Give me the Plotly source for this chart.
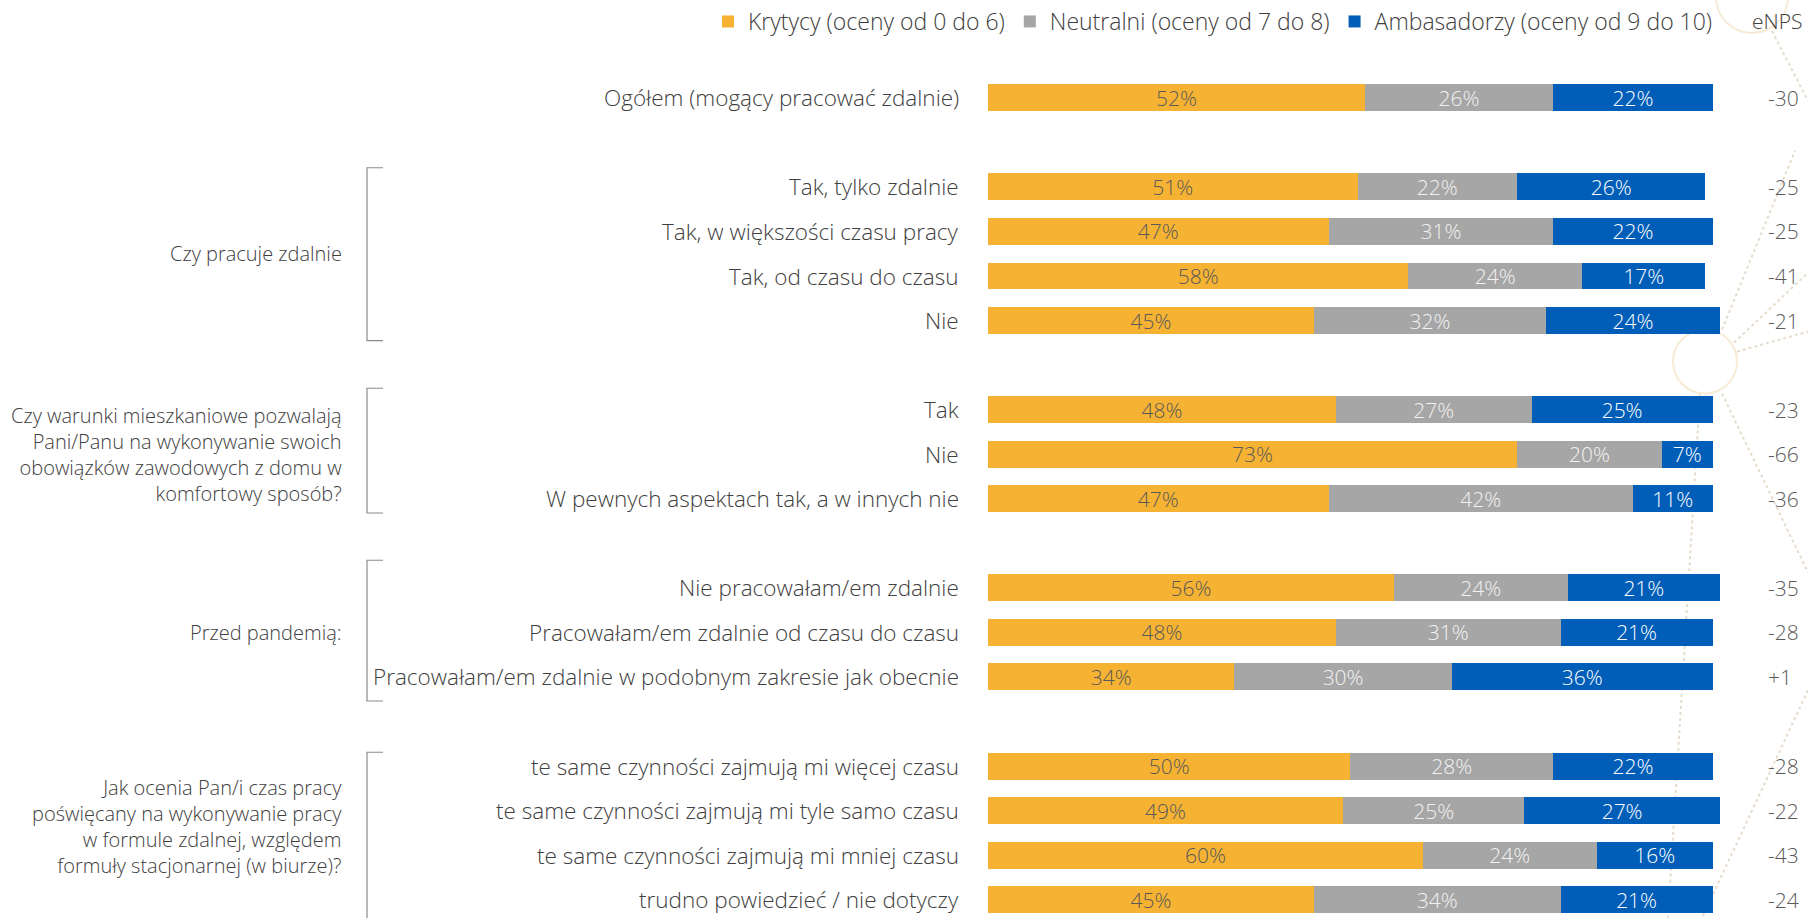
import plotly.graph_objects as go

# --- data -------------------------------------------------------------
labels = [
    "Ogółem (mogący pracować zdalnie)",
    "Tak, tylko zdalnie",
    "Tak, w większości czasu pracy",
    "Tak, od czasu do czasu",
    "Nie",
    "Tak",
    "Nie",
    "W pewnych aspektach tak, a w innych nie",
    "Nie pracowałam/em zdalnie",
    "Pracowałam/em zdalnie od czasu do czasu",
    "Pracowałam/em zdalnie w podobnym zakresie jak obecnie",
    "te same czynności zajmują mi więcej czasu",
    "te same czynności zajmują mi tyle samo czasu",
    "te same czynności zajmują mi mniej czasu",
    "trudno powiedzieć / nie dotyczy",
]
krytycy = [52, 51, 47, 58, 45, 48, 73, 47, 56, 48, 34, 50, 49, 60, 45]
neutralni = [26, 22, 31, 24, 32, 27, 20, 42, 24, 31, 30, 28, 25, 24, 34]
ambasadorzy = [22, 26, 22, 17, 24, 25, 7, 11, 21, 21, 36, 22, 27, 16, 21]
enps = ["-30", "-25", "-25", "-41", "-21", "-23", "-66", "-36",
        "-35", "-28", "+1", "-28", "-22", "-43", "-24"]

series_names = [
    "Krytycy (oceny od 0 do 6)",
    "Neutralni (oceny od 7 do 8)",
    "Ambasadorzy (oceny od 9 do 10)",
]

group_titles = [
    "Czy pracuje zdalnie",
    "Czy warunki mieszkaniowe pozwalają<br>Pani/Panu na wykonywanie swoich<br>"
    "obowiązków zawodowych z domu w<br>komfortowy sposób?",
    "Przed pandemią:",
    "Jak ocenia Pan/i czas pracy<br>poświęcany na wykonywanie pracy<br>"
    "w formule zdalnej, względem<br>formuły stacjonarnej (w biurze)?",
]
# index of the first and last row belonging to each group
group_rows = [(1, 4), (5, 7), (8, 10), (11, 14)]

# --- layout helpers ---------------------------------------------------
W, H = 1808, 918
# rows are placed in slots; an empty slot separates the blocks
slots = [0, 2, 3, 4, 5, 7, 8, 9, 11, 12, 13, 15, 16, 17, 18]

SLOT_PX0, SLOT_STEP = 96.9, 44.6      # pixel centre of slot 0, slot pitch
BAR_PX0, BAR_PX100 = 988.0, 1712.7    # pixel of 0 % and 100 %
px_per_unit = (BAR_PX100 - BAR_PX0) / 100.0
x_range = [-BAR_PX0 / px_per_unit, (W - BAR_PX0) / px_per_unit]
y_range = [(H - SLOT_PX0) / SLOT_STEP, -SLOT_PX0 / SLOT_STEP]


def xd(px):
    return (px - BAR_PX0) / px_per_unit


FONT = "Open Sans, Segoe UI, sans-serif"
TXT = "#404040"
colors = ["#F6B333", "#A6A6A6", "#005EB8"]
text_colors = ["#595959", "#F2F2F2", "#FFFFFF"]

fig = go.Figure()
for name, vals, col, tcol in zip(series_names, [krytycy, neutralni, ambasadorzy],
                                 colors, text_colors):
    fig.add_trace(go.Bar(
        x=vals, y=slots, orientation="h", name=name,
        marker=dict(color=col, line=dict(width=0)),
        width=0.605,
        text=[f"{v}%" for v in vals], textposition="inside",
        insidetextanchor="middle", textangle=0, constraintext="none",
        textfont=dict(family=FONT, size=21, color=tcol, weight=300),
        cliponaxis=False, hoverinfo="skip",
    ))

annotations = []
# row labels
for lab, s in zip(labels, slots):
    annotations.append(dict(x=xd(961), y=s, text=lab, xanchor="right",
                            showarrow=False, font=dict(size=22.5, color=TXT,
                                                       family=FONT, weight=300)))
# eNPS values
for v, s in zip(enps, slots):
    annotations.append(dict(x=xd(1766), y=s, text=v, xanchor="left",
                            showarrow=False, font=dict(size=21, color="#595959",
                                                       family=FONT, weight=300)))
annotations.append(dict(x=xd(1750), y=-1.72, text="eNPS", xanchor="left",
                        showarrow=False, font=dict(size=21, color=TXT,
                                                   family=FONT, weight=300)))

# group titles and brackets
bracket_pad = [(-0.43, 0.45), (-0.48, 0.32), (-0.62, 0.54), (-0.31, 0.9)]
title_shift = [0.0, 0.0, 0.0, -0.15]
shapes = []
for title, (a, b), (pt, pb), dy in zip(group_titles, group_rows, bracket_pad,
                                       title_shift):
    y0, y1 = slots[a], slots[b]
    annotations.append(dict(x=xd(344), y=(y0 + y1) / 2 + dy, text=title,
                            xanchor="right", align="right", showarrow=False,
                            font=dict(size=20, color=TXT, family=FONT, weight=300)))
    top, bot = y0 + pt, y1 + pb
    shapes.append(dict(type="path", xref="x", yref="y",
                       path=f"M {xd(383)},{top} L {xd(367)},{top} "
                            f"L {xd(367)},{bot} L {xd(383)},{bot}",
                       line=dict(color="#8C8C8C", width=1.2)))

# faint decorative circles and dotted rays on the right margin


def pp(x, y):
    return x / W, 1 - y / H


deco = "#E6DCCD"
for cx, cy, r in [(1705, 361, 32), (1752, -4, 36)]:
    x0, y0 = pp(cx - r, cy - r)
    x1, y1 = pp(cx + r, cy + r)
    shapes.append(dict(type="circle", xref="paper", yref="paper", layer="below",
                       x0=x0, y0=y0, x1=x1, y1=y1,
                       line=dict(color="#F8EBD6", width=2)))
for (ax, ay), (bx, by) in [((1772, 30), (1808, 100)),
                           ((1722, 329), (1795, 150)),
                           ((1737, 351), (1808, 331)),
                           ((1734, 342), (1808, 272)),
                           ((1722, 393), (1808, 572)),
                           ((1700, 394), (1668, 918)),
                           ((1808, 690), (1702, 918))]:
    x0, y0 = pp(ax, ay)
    x1, y1 = pp(bx, by)
    shapes.append(dict(type="line", xref="paper", yref="paper", layer="below",
                       x0=x0, y0=y0, x1=x1, y1=y1,
                       line=dict(color=deco, width=2, dash="dot")))

fig.update_layout(
    width=W, height=H,
    margin=dict(l=0, r=0, t=0, b=0),
    barmode="stack",
    plot_bgcolor="white", paper_bgcolor="white",
    font=dict(family=FONT, color=TXT, size=20, weight=300),
    xaxis=dict(range=x_range, visible=False, fixedrange=True),
    yaxis=dict(range=y_range, visible=False, fixedrange=True),
    showlegend=True,
    legend=dict(orientation="h", x=708 / W, xanchor="left",
                y=1 - 21 / H, yanchor="middle", traceorder="normal",
                font=dict(size=23, color=TXT, family=FONT, weight=300),
                bgcolor="rgba(0,0,0,0)", itemclick=False, itemdoubleclick=False),
    annotations=annotations,
    shapes=shapes,
)

fig.write_html("out.html")
